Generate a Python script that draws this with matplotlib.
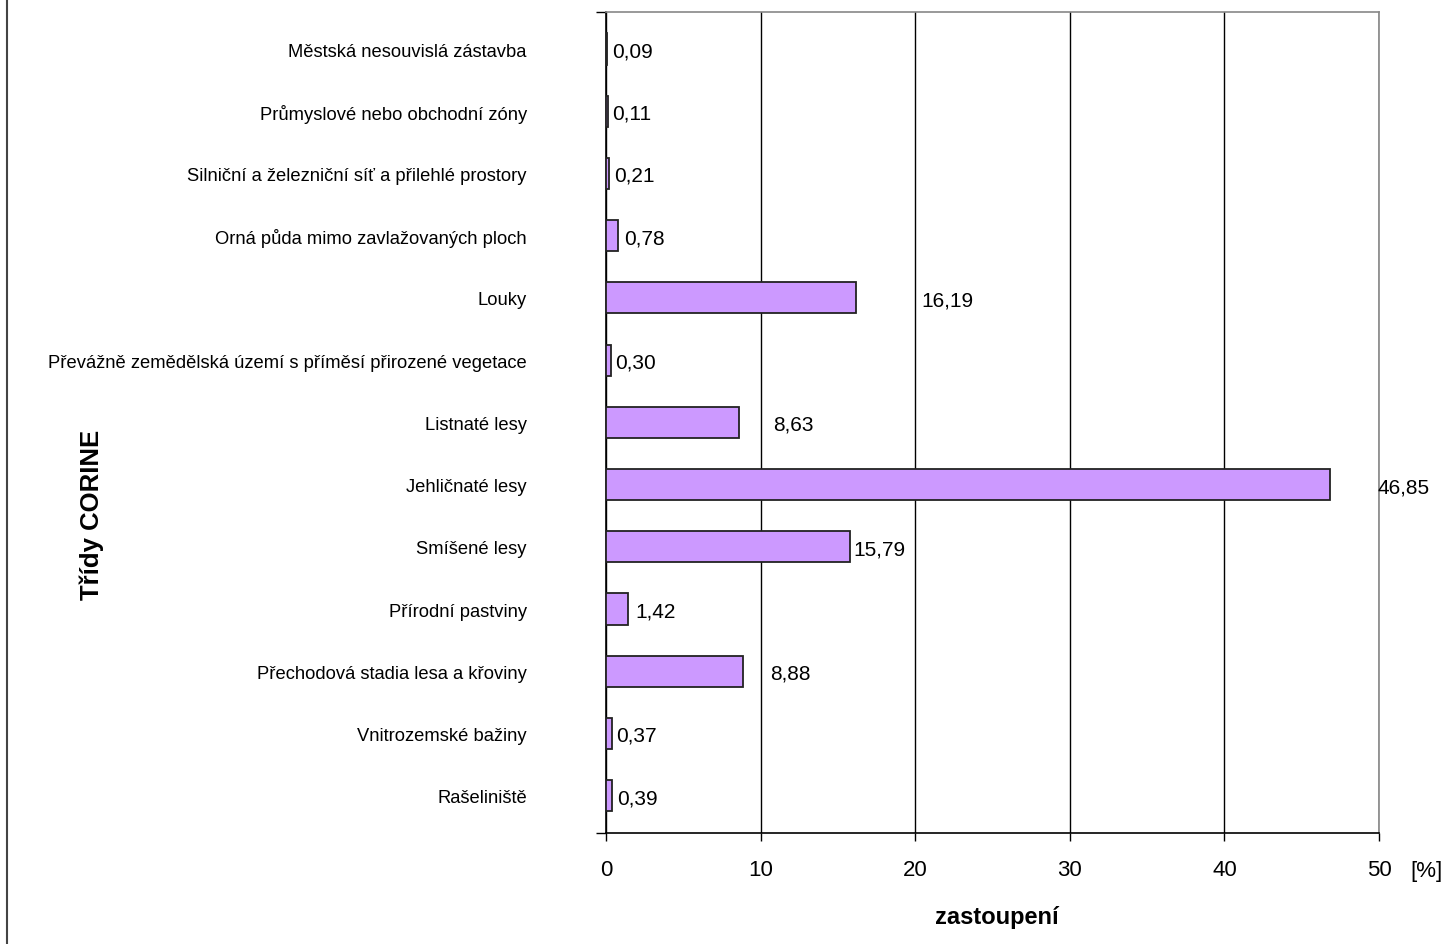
import matplotlib
matplotlib.use("Agg")
import matplotlib.pyplot as plt
from matplotlib.lines import Line2D

plt.rcParams['font.family'] = ['Liberation Sans', 'DejaVu Sans']

categories = [
    "Městská nesouvislá zástavba",
    "Průmyslové nebo obchodní zóny",
    "Silniční a železniční síť a přilehlé prostory",
    "Orná půda mimo zavlažovaných ploch",
    "Louky",
    "Převážně zemědělská území s příměsí přirozené vegetace",
    "Listnaté lesy",
    "Jehličnaté lesy",
    "Smíšené lesy",
    "Přírodní pastviny",
    "Přechodová stadia lesa a křoviny",
    "Vnitrozemské bažiny",
    "Rašeliniště",
]
values = [0.09, 0.11, 0.21, 0.78, 16.19, 0.30, 8.63, 46.85, 15.79, 1.42, 8.88, 0.37, 0.39]
# where excel put the value labels (left edge, in %)
label_x = [0.37, 0.37, 0.5, 1.16, 20.4, 0.6, 10.8, 49.9, 16.0, 1.9, 10.6, 0.65, 0.75]
xticks = [0, 10, 20, 30, 40, 50]

fig = plt.figure(figsize=(14.45, 9.45), dpi=100)
ax = fig.add_axes([606/1445, 1-834/945, 773/1445, 821/945])

ypos = list(range(len(categories)))
ax.barh(ypos, values, height=0.5, color='#CC99FF', edgecolor='#222222', linewidth=1.3, zorder=3)
for y, v, lx in zip(ypos, values, label_x):
    ax.text(lx, y, ('%.2f' % v).replace('.', ','), va='center_baseline', ha='left', fontsize=15, zorder=4)

ax.set_xlim(0, 50)
ylo, yhi = -0.595, 12.6
ax.set_ylim(yhi, ylo)
ax.set_xticks(xticks)
ax.set_xticklabels([str(t) for t in xticks], fontsize=16)
ax.tick_params(axis='x', direction='out', length=6, width=1, pad=13)
ax.set_yticks(ypos)
ax.set_yticklabels(categories, fontsize=13.2)
ax.tick_params(axis='y', length=0, pad=57)
ax.set_yticks([ylo, yhi], minor=True)
ax.tick_params(axis='y', which='minor', length=7, width=1)
ax.grid(axis='x', color='black', linewidth=1, zorder=1)

ax.spines['left'].set_color('black')
ax.spines['bottom'].set_color('black')
ax.spines['left'].set_linewidth(1.2)
ax.spines['bottom'].set_linewidth(1.2)
ax.spines['top'].set_color('#888888')
ax.spines['right'].set_color('#888888')
ax.spines['top'].set_linewidth(1.2)
ax.spines['right'].set_linewidth(1.2)

fig.text(1410/1445, 1-872/945, '[%]', fontsize=16, va='center', ha='left')
fig.text(997/1445, 1-918/945, 'zastoupení', fontsize=17, fontweight='bold', ha='center', va='center')
fig.text(92/1445, 1-515/945, 'Třídy CORINE', fontsize=18.5, fontweight='bold', rotation=90, ha='center', va='center')

# frame edge on the left
fig.add_artist(Line2D([7/1445, 7/1445], [0, 1], color='#444444', linewidth=1.5))

fig.savefig('out.png', dpi=100)
